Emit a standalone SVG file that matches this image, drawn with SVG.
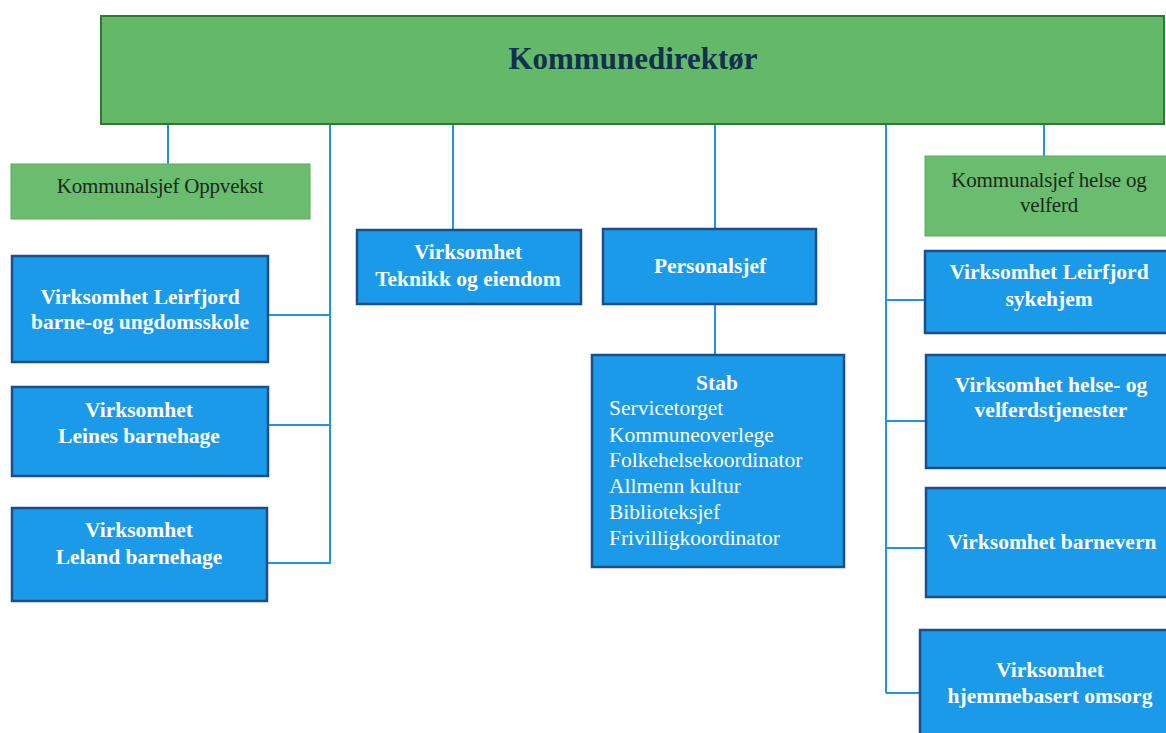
<svg xmlns="http://www.w3.org/2000/svg" width="1166" height="733" viewBox="0 0 1166 733">
<style>
.top{fill:#64b968;stroke:#2e7a34;stroke-width:2}
.green{fill:#6abd6e;stroke:#5aab5e;stroke-width:1}
.blue{fill:#1a9ae8;stroke:#1c4e88;stroke-width:2.5}
.conn{stroke:#2592de;stroke-width:2;fill:none}
.title{font-family:"Liberation Serif","Times New Roman",serif;font-weight:bold;font-size:31px;fill:#12304f;text-anchor:middle}
.gt{font-family:"Liberation Serif","Times New Roman",serif;font-size:21px;fill:#1a2a1c;text-anchor:middle;letter-spacing:-0.2px}
.bt{font-family:"Liberation Serif","Times New Roman",serif;font-weight:bold;font-size:21.5px;fill:#ffffff;text-anchor:middle}
.rt{font-family:"Liberation Serif","Times New Roman",serif;font-size:21.5px;fill:#ffffff}
</style>
<rect width="1166" height="733" fill="#ffffff"/>
<g id="connectors">
<line class="conn" x1="168" y1="125" x2="168" y2="164"/>
<line class="conn" x1="330" y1="125" x2="330" y2="564"/>
<line class="conn" x1="268" y1="315" x2="330" y2="315"/>
<line class="conn" x1="268" y1="425" x2="330" y2="425"/>
<line class="conn" x1="268" y1="563" x2="330" y2="563"/>
<line class="conn" x1="453" y1="125" x2="453" y2="230"/>
<line class="conn" x1="715" y1="125" x2="715" y2="229"/>
<line class="conn" x1="715" y1="304" x2="715" y2="355"/>
<line class="conn" x1="886" y1="125" x2="886" y2="693"/>
<line class="conn" x1="1044" y1="125" x2="1044" y2="156"/>
<line class="conn" x1="886" y1="300" x2="925" y2="300"/>
<line class="conn" x1="886" y1="421" x2="925" y2="421"/>
<line class="conn" x1="886" y1="548" x2="925" y2="548"/>
<line class="conn" x1="886" y1="693" x2="920" y2="693"/>
</g>
<g id="kommunedirektor">
<rect class="top" x="101" y="16" width="1063" height="108"/>
<text class="title" x="633" y="69">Kommunedirektør</text>
</g>
<g id="kommunalsjef-oppvekst">
<rect class="green" x="11" y="164" width="299" height="55"/>
<text class="gt" x="160" y="193">Kommunalsjef Oppvekst</text>
</g>
<g id="leirfjord-skole">
<rect class="blue" x="12" y="256" width="256" height="106"/>
<text class="bt" x="140" y="304">Virksomhet Leirfjord</text>
<text class="bt" x="140" y="329">barne-og ungdomsskole</text>
</g>
<g id="leines-barnehage">
<rect class="blue" x="12" y="387" width="256" height="89"/>
<text class="bt" x="139" y="417">Virksomhet</text>
<text class="bt" x="139" y="443">Leines barnehage</text>
</g>
<g id="leland-barnehage">
<rect class="blue" x="12" y="508" width="255" height="93"/>
<text class="bt" x="139" y="537">Virksomhet</text>
<text class="bt" x="139" y="564">Leland barnehage</text>
</g>
<g id="teknikk">
<rect class="blue" x="357" y="230" width="224" height="74"/>
<text class="bt" x="468" y="259">Virksomhet</text>
<text class="bt" x="468" y="286">Teknikk og eiendom</text>
</g>
<g id="personalsjef">
<rect class="blue" x="603" y="229" width="213" height="75"/>
<text class="bt" x="710" y="273">Personalsjef</text>
</g>
<g id="stab">
<rect class="blue" x="592" y="355" width="252" height="212"/>
<text class="bt" x="717" y="390">Stab</text>
<text class="rt" x="609" y="415">Servicetorget</text>
<text class="rt" x="609" y="442">Kommuneoverlege</text>
<text class="rt" x="609" y="467">Folkehelsekoordinator</text>
<text class="rt" x="609" y="493">Allmenn kultur</text>
<text class="rt" x="609" y="519">Biblioteksjef</text>
<text class="rt" x="609" y="545">Frivilligkoordinator</text>
</g>
<g id="kommunalsjef-helse">
<rect class="green" x="925" y="156" width="245" height="80"/>
<text class="gt" x="1049" y="187">Kommunalsjef helse og</text>
<text class="gt" x="1049" y="212">velferd</text>
</g>
<g id="sykehjem">
<rect class="blue" x="925" y="251" width="245" height="82"/>
<text class="bt" x="1049" y="279">Virksomhet Leirfjord</text>
<text class="bt" x="1049" y="306">sykehjem</text>
</g>
<g id="helse-velferd">
<rect class="blue" x="926" y="355" width="244" height="113"/>
<text class="bt" x="1051" y="392">Virksomhet helse- og</text>
<text class="bt" x="1051" y="417">velferdstjenester</text>
</g>
<g id="barnevern">
<rect class="blue" x="926" y="488" width="244" height="109"/>
<text class="bt" x="1052" y="549">Virksomhet barnevern</text>
</g>
<g id="hjemmebasert">
<rect class="blue" x="920" y="630" width="250" height="110"/>
<text class="bt" x="1050" y="677">Virksomhet</text>
<text class="bt" x="1050" y="703">hjemmebasert omsorg</text>
</g>
</svg>
